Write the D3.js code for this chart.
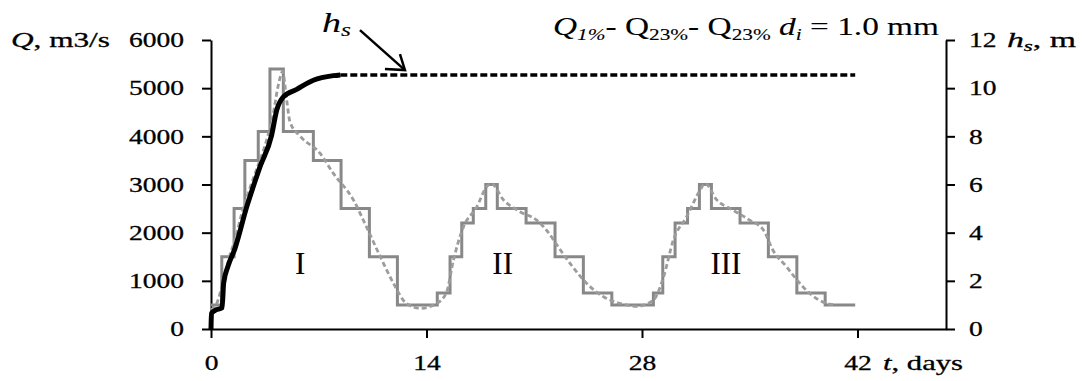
<!DOCTYPE html>
<html>
<head>
<meta charset="utf-8">
<script src="https://cdn.jsdelivr.net/npm/d3@7"></script>
<style>
  body { margin: 0; background: #fff; }
  svg { display: block; }
  text { font-family: "Liberation Serif", "Times New Roman", Times, serif; fill: #000; stroke: #000; stroke-width: 0.3px; }
  text.light { stroke-width: 0.1px; }
</style>
</head>
<body>
<svg id="chart" width="1084" height="381"></svg>
<script>
// Axis ticks
const qTicks = [0, 1000, 2000, 3000, 4000, 5000, 6000];
const hTicks = [0, 2, 4, 6, 8, 10, 12];
const dayTicks = [0, 14, 28, 42];

// Stepped discharge hydrograph: start day of each step (last entry = end day) and Q, m3/s
const stepDays = [0, 0.7, 1.5, 2.2, 3.07, 3.83, 4.7, 6.65, 8.45, 10.29, 12.11,
                  14.7, 15.53, 16.29, 17.04, 17.85, 18.6, 20.47, 22.35, 24.19, 26.04,
                  28.74, 29.35, 30.15, 30.96, 31.73, 32.51, 34.37, 36.21, 38.06, 39.9, 41.85];
const stepQ = [500, 1500, 2500, 3500, 4100, 5400, 4100, 3500, 2500, 1500, 500,
               750, 1500, 2200, 2500, 3000, 2500, 2200, 1500, 750, 500,
               750, 1500, 2200, 2500, 3000, 2500, 2200, 1500, 750, 500];

// Smooth discharge hydrograph (dashed)
const smoothDays = [0, 0.4, 0.8, 1.2, 1.6, 2.0, 2.5, 3.0, 3.5, 4.0, 4.4, 4.65, 4.9, 5.13, 5.8,
                    7.08, 7.95, 9.25, 10.1, 11.0, 11.85, 12.7, 13.6, 14.66, 15.3, 15.75, 16.4,
                    17.26, 17.9, 18.2, 19.0, 20.1, 21.16, 21.8, 22.7, 23.5, 24.4, 25.5, 26.6,
                    27.66, 28.74, 29.4, 30.04, 30.9, 31.77, 32.1, 32.86, 33.9, 35.0, 35.9,
                    36.5, 37.4, 38.06, 38.9, 40.0, 40.6];
const smoothQ = [400, 550, 1000, 1500, 1900, 2400, 2900, 3350, 3800, 4400, 5100, 5350, 4800, 4300, 4000,
                 3650, 3230, 2680, 2120, 1500, 950, 530, 430, 530, 760, 1430, 2120,
                 2530, 2950, 3020, 2680, 2430, 2260, 2050, 1640, 1290, 950, 670, 530,
                 470, 600, 1080, 1850, 2330, 2880, 3020, 2680, 2470, 2260, 2050,
                 1640, 1290, 1020, 740, 530, 500];

// Scour depth h_s, m
const hsDays = [0, 0.03, 0.3, 0.72, 0.82, 1.1, 1.56, 2.32, 3.18, 3.94, 4.27, 4.7, 5.57, 6.65, 7.95, 8.4];
const hsVals = [0, 0.65, 0.78, 0.88, 1.9, 2.6, 3.35, 5.07, 6.73, 8.05, 9.09, 9.64, 9.95, 10.33, 10.52, 10.55];
const hsPlateauDays = [8.4, 41.85];
const hsPlateauVals = [10.55, 10.55];

// Flood wave labels
const waveLabels = ["I", "II", "III"];
const waveDays = [5.8, 18.95, 33.45];
const waveQ = [1150, 1150, 1150];

const svg = d3.select("#chart");

const x = d3.scaleLinear().domain([0, 47.75]).range([211, 946]);
const yQ = d3.scaleLinear().domain([0, 6000]).range([329, 40]);
const yH = d3.scaleLinear().domain([0, 12]).range([329, 40]);

// horizontal stretch for lettering
const STRETCH = 1.31;
function stretchText(sel, k) {
  sel.each(function () {
    const w = this.getComputedTextLength();
    d3.select(this).attr("textLength", w * k).attr("lengthAdjust", "spacingAndGlyphs");
  });
}
function styleAxis(g) {
  g.attr("font-family", null);
  g.select(".domain").attr("stroke", "#000").attr("stroke-width", 2);
  g.selectAll(".tick line").attr("stroke", "#000").attr("stroke-width", 2);
  g.selectAll(".tick text").attr("font-size", 21).attr("fill", "#000");
  stretchText(g.selectAll(".tick text"), STRETCH);
}

// Axes
const gL = svg.append("g").attr("transform", "translate(211,0)")
  .call(d3.axisLeft(yQ).tickValues(qTicks).tickSize(9).tickSizeOuter(0).tickPadding(18).tickFormat(d3.format("d")));
styleAxis(gL);
const gR = svg.append("g").attr("transform", "translate(946,0)")
  .call(d3.axisRight(yH).tickValues(hTicks).tickSize(9).tickSizeOuter(0).tickPadding(14).tickFormat(d3.format("d")));
styleAxis(gR);
const gB = svg.append("g").attr("transform", "translate(0,329)")
  .call(d3.axisBottom(x).tickValues(dayTicks).tickSize(9).tickSizeOuter(0).tickPadding(17).tickFormat(d3.format("d")));
styleAxis(gB);

// Stepped hydrograph
const stepPts = stepDays.map((d, i) => [d, stepQ[Math.min(i, stepQ.length - 1)]]);
svg.append("path")
  .attr("d", d3.line().curve(d3.curveStepAfter).x(p => x(p[0])).y(p => yQ(p[1]))(stepPts))
  .attr("fill", "none").attr("stroke", "#888").attr("stroke-width", 3);

// Smooth hydrograph (dashed)
const smoothPts = smoothDays.map((d, i) => [d, smoothQ[i]]);
svg.append("path")
  .attr("d", d3.line().curve(d3.curveMonotoneX).x(p => x(p[0])).y(p => yQ(p[1]))(smoothPts))
  .attr("fill", "none").attr("stroke", "#9c9c9c").attr("stroke-width", 2.8)
  .attr("stroke-dasharray", "5,3");

// Scour depth curve
const hsPts = hsDays.map((d, i) => [d, hsVals[i]]);
svg.append("path")
  .attr("d", d3.line().curve(d3.curveMonotoneX).x(p => x(p[0])).y(p => yH(p[1]))(hsPts))
  .attr("fill", "none").attr("stroke", "#000").attr("stroke-width", 5)
  .attr("stroke-linejoin", "round");
const plateauPts = hsPlateauDays.map((d, i) => [d, hsPlateauVals[i]]);
svg.append("path")
  .attr("d", d3.line().x(p => x(p[0])).y(p => yH(p[1]))(plateauPts))
  .attr("fill", "none").attr("stroke", "#000").attr("stroke-width", 3.5)
  .attr("stroke-dasharray", "7,3");

// Wave labels
svg.append("g").selectAll("text").data(waveLabels).join("text")
  .attr("class", "light")
  .attr("x", (d, i) => x(waveDays[i])).attr("y", (d, i) => yQ(waveQ[i]))
  .attr("text-anchor", "middle").attr("font-size", 31).text(d => d);

// h_s pointer arrow
const tip = [x(12.6), yH(10.75)];
const tail = [tip[0] - 45, tip[1] - 40];
const arrow = svg.append("g").attr("stroke", "#000").attr("stroke-width", 2.5).attr("fill", "none");
arrow.append("line").attr("x1", tail[0]).attr("y1", tail[1]).attr("x2", tip[0]).attr("y2", tip[1]);
arrow.append("path").attr("d", `M${tip[0] - 20},${tip[1] - 1}L${tip[0]},${tip[1]}L${tip[0] - 5},${tip[1] - 16}`)
  .attr("stroke-linejoin", "miter");
const hsLab = svg.append("text").attr("class", "light").attr("x", tail[0] - 38).attr("y", tail[1] + 2).attr("font-size", 27);
hsLab.append("tspan").attr("font-style", "italic").text("h");
hsLab.append("tspan").attr("font-style", "italic").attr("font-size", 18).attr("dy", 4).text("s");
hsLab.attr("textLength", 29).attr("lengthAdjust", "spacingAndGlyphs");

// Axis titles
const qTitle = svg.append("text").attr("x", 11).attr("y", 47).attr("font-size", 22);
qTitle.append("tspan").attr("font-style", "italic").text("Q");
qTitle.append("tspan").text(", m3/s");
qTitle.attr("textLength", 99).attr("lengthAdjust", "spacingAndGlyphs");

const hTitle = svg.append("text").attr("x", 1007).attr("y", 47).attr("font-size", 22);
hTitle.append("tspan").attr("font-style", "italic").text("h");
hTitle.append("tspan").attr("font-style", "italic").attr("font-size", 15).attr("dy", 4).text("s");
hTitle.append("tspan").attr("dy", -4).text(", m");
hTitle.attr("textLength", 69).attr("lengthAdjust", "spacingAndGlyphs");

const tTitle = svg.append("text").attr("x", 883).attr("y", 370).attr("font-size", 22);
tTitle.append("tspan").attr("font-style", "italic").text("t");
tTitle.append("tspan").text(", days");
tTitle.attr("textLength", 80).attr("lengthAdjust", "spacingAndGlyphs");

// Scenario caption
const cap = svg.append("text").attr("class", "light").attr("x", 553).attr("y", 35).attr("font-size", 25);
cap.append("tspan").attr("font-style", "italic").text("Q");
cap.append("tspan").attr("font-style", "italic").attr("font-size", 16).attr("dy", 5).text("1%");
cap.append("tspan").attr("dy", -5).text("- Q");
cap.append("tspan").attr("font-size", 16).attr("dy", 5).text("23%");
cap.append("tspan").attr("dy", -5).text("- Q");
cap.append("tspan").attr("font-size", 16).attr("dy", 5).text("23%");
cap.append("tspan").attr("dy", -5).attr("font-style", "italic").text(" d");
cap.append("tspan").attr("font-style", "italic").attr("font-size", 16).attr("dy", 5).text("i");
cap.append("tspan").attr("dy", -5).text(" = 1.0 mm");
cap.attr("textLength", 386).attr("lengthAdjust", "spacingAndGlyphs");
</script>
</body>
</html>
